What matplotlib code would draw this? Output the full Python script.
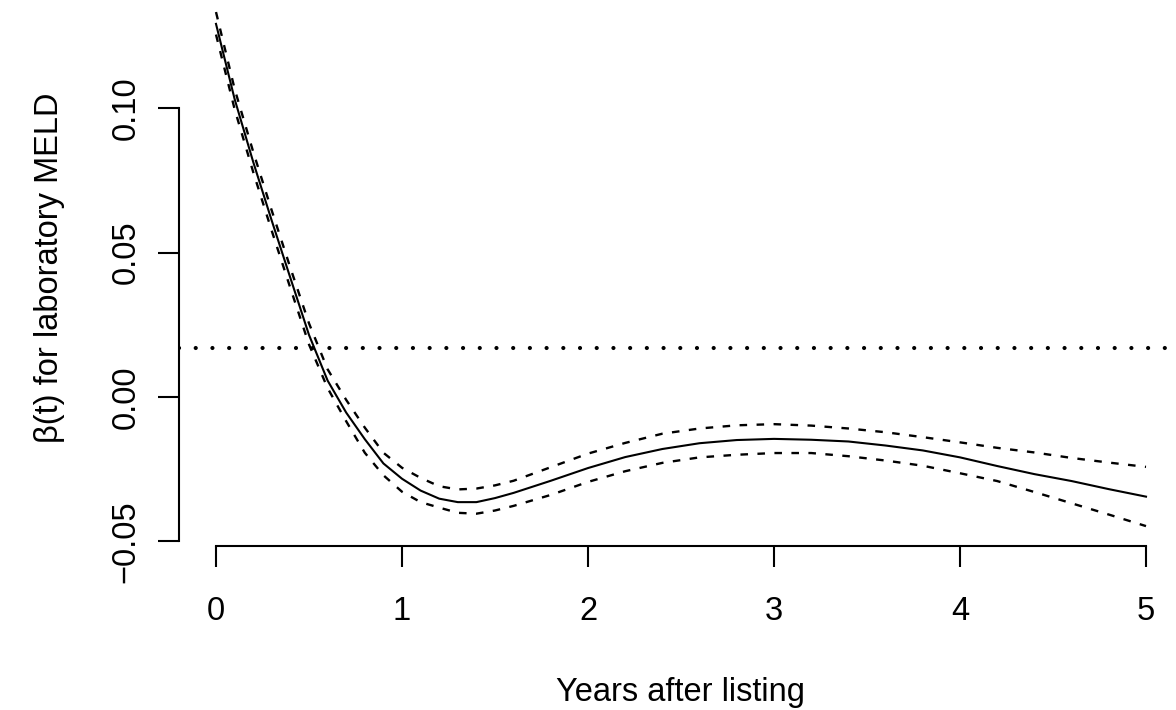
"""Coeficiente variable en el tiempo beta(t) para MELD de laboratorio."""
import matplotlib

matplotlib.use("Agg")
import matplotlib.pyplot as plt  # noqa: E402

plt.rcParams["font.family"] = ["Liberation Sans", "DejaVu Sans"]

# Años desde la inclusión en lista
years = [0.0, 0.1, 0.2, 0.3, 0.4, 0.5, 0.6, 0.7, 0.8, 0.9, 1.0, 1.1, 1.2,
         1.3, 1.4, 1.5, 1.6, 1.8, 2.0, 2.2, 2.4, 2.6, 2.8, 3.0, 3.2, 3.4,
         3.6, 3.8, 4.0, 4.2, 4.4, 4.6, 4.8, 5.0]

# Estimación beta(t)
beta = [0.1292, 0.1032, 0.0814, 0.0610, 0.0412, 0.0215, 0.0057, -0.0054,
        -0.0146, -0.0230, -0.0283, -0.0324, -0.0352, -0.0364, -0.0364,
        -0.0350, -0.0332, -0.0290, -0.0246, -0.0208, -0.0180, -0.0160,
        -0.0149, -0.0145, -0.0148, -0.0154, -0.0168, -0.0185, -0.0209,
        -0.0239, -0.0267, -0.0291, -0.0319, -0.0345]

# Banda superior e inferior
beta_upper = [0.1333, 0.1067, 0.0849, 0.0645, 0.0447, 0.0255, 0.0096,
              -0.0010, -0.0106, -0.0193, -0.0245, -0.0280, -0.0309, -0.0320,
              -0.0317, -0.0306, -0.0290, -0.0243, -0.0196, -0.0159, -0.0127,
              -0.0109, -0.0098, -0.0094, -0.0099, -0.0109, -0.0122, -0.0139,
              -0.0157, -0.0176, -0.0192, -0.0211, -0.0227, -0.0242]
beta_lower = [0.1255, 0.0997, 0.0779, 0.0575, 0.0377, 0.0182, 0.0031,
              -0.0084, -0.0193, -0.0271, -0.0328, -0.0364, -0.0383, -0.0401,
              -0.0404, -0.0393, -0.0377, -0.0339, -0.0294, -0.0257, -0.0228,
              -0.0209, -0.0200, -0.0194, -0.0194, -0.0205, -0.0220, -0.0238,
              -0.0264, -0.0291, -0.0329, -0.0368, -0.0407, -0.0447]

# Coeficiente constante (modelo sin interacción con el tiempo)
beta_const = 0.017

x_ticks = [0, 1, 2, 3, 4, 5]
y_ticks = [-0.05, 0.00, 0.05, 0.10]
y_tick_labels = ["\u22120.05", "0.00", "0.05", "0.10"]

W, H = 1176, 710
fig = plt.figure(figsize=(W / 100, H / 100), dpi=100)
# región del gráfico en píxeles (estilo R: se sale un poco por arriba y a la derecha)
left_px, right_px, top_px, bottom_px = 178.8, 1183.2, -10, 546
ax = fig.add_axes([left_px / W, 1 - bottom_px / H,
                   (right_px - left_px) / W, (bottom_px - top_px) / H])
ax.set_xlim(-0.2, 5.2)
ax.set_ylim(-0.05159, 0.14093)

ax.plot(years, beta, color="black", lw=1.5, solid_joinstyle="round")
for band in (beta_upper, beta_lower):
    ax.plot(years, band, color="black", lw=1.7, linestyle=(0, (3.2, 4.0)))
ax.axhline(beta_const, color="black", lw=3.0, linestyle=(0, (0.01, 4.0)),
           dash_capstyle="round")

for side in ("top", "right"):
    ax.spines[side].set_visible(False)
ax.spines["left"].set_bounds(-0.05, 0.10)
ax.spines["bottom"].set_bounds(0, 5)
for side in ("left", "bottom"):
    ax.spines[side].set_linewidth(1.5)

ax.set_xticks(x_ticks)
ax.set_xticklabels([str(t) for t in x_ticks])
ax.set_yticks(y_ticks)
ax.set_yticklabels(y_tick_labels, rotation=90, va="center")
ax.tick_params(direction="out", length=15, width=1.5, labelsize=23.5)
ax.tick_params(axis="x", pad=21)
ax.tick_params(axis="y", pad=12)

ax.set_xlabel("Years after listing", fontsize=23.5)
ax.xaxis.set_label_coords(0.5, -0.236)
ax.set_ylabel("\u03b2(t) for laboratory MELD", fontsize=23.5)
ax.yaxis.set_label_coords(-0.113, 0.5)

fig.savefig("out.png", dpi=100)
